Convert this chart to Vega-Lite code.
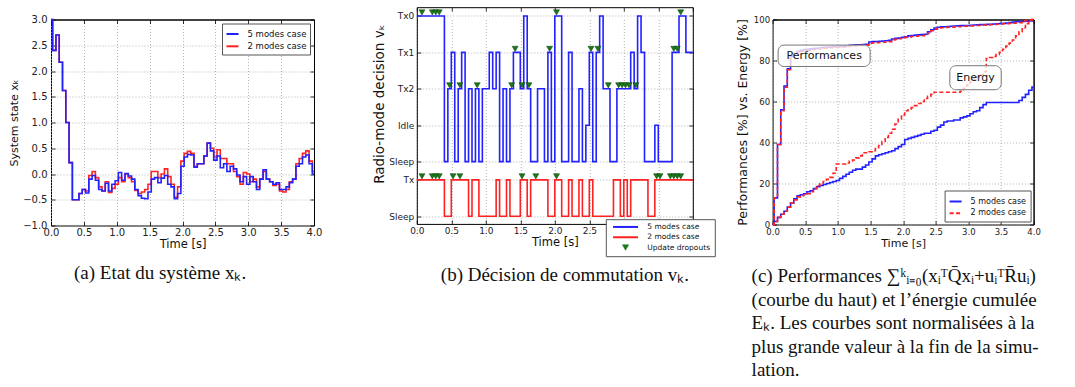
{
"$schema": "https://vega.github.io/schema/vega-lite/v6.json",
"background": "white",
"padding": {"left": 8, "top": 5.5, "right": 5, "bottom": 5},
"columns": 3,
"align": "none",
"spacing": 19.8,
"resolve": {"scale": {"color": "independent", "strokeDash": "independent"}},
"config": {
 "font": "DejaVu Sans",
 "view": {"stroke": "#000", "strokeWidth": 1},
 "axis": {"grid": true, "gridColor": "#a0a0a0", "gridDash": [1, 2], "gridWidth": 0.8, "domain": false, "ticks": true, "tickSize": -4, "tickColor": "#000", "tickWidth": 0.8, "labelColor": "#222", "titleColor": "#111", "titleFontWeight": "normal", "labelFlush": false, "labelOverlap": false, "titleFont": "DejaVu Sans", "labelFont": "DejaVu Sans"},
 "legend": {"labelFont": "DejaVu Sans", "labelColor": "#111", "strokeColor": "#555", "fillColor": "#fff", "cornerRadius": 0, "symbolStrokeWidth": 2, "labelLimit": 200},
 "title": {"font": "Liberation Serif", "fontWeight": "normal", "color": "#111", "fontSize": 19}
},
"datasets": {
 "a": [
{"t":0,"b":3,"r":3},{"t":0.05,"b":2.4,"r":2.4},{"t":0.1,"b":2.7,"r":2.7},{"t":0.15,"b":2.17,"r":2.17},{"t":0.2,"b":1.62,"r":1.62},{"t":0.25,"b":1,"r":1},{"t":0.3,"b":0.22,"r":0.22},{"t":0.35,"b":-0.5,"r":-0.5},{"t":0.4,"b":-0.5,"r":-0.5},{"t":0.45,"b":-0.38,"r":-0.38},
{"t":0.5,"b":-0.3,"r":-0.3},{"t":0.55,"b":-0.37,"r":-0.33},{"t":0.6,"b":-0.1,"r":-0.03},{"t":0.65,"b":-0.03,"r":0.05},{"t":0.7,"b":-0.12,"r":-0.07},{"t":0.75,"b":-0.3,"r":-0.25},{"t":0.8,"b":-0.33,"r":-0.33},{"t":0.85,"b":-0.18,"r":-0.15},{"t":0.9,"b":-0.33,"r":-0.36},{"t":0.95,"b":-0.2,"r":-0.28},
{"t":1,"b":-0.13,"r":-0.2},{"t":1.05,"b":0.03,"r":-0.07},{"t":1.1,"b":-0.12,"r":-0.15},{"t":1.15,"b":0.01,"r":0},{"t":1.2,"b":-0.04,"r":-0.07},{"t":1.25,"b":-0.1,"r":-0.15},{"t":1.3,"b":-0.3,"r":-0.32},{"t":1.35,"b":-0.42,"r":-0.38},{"t":1.4,"b":-0.47,"r":-0.35},{"t":1.45,"b":-0.48,"r":-0.3},
{"t":1.5,"b":-0.35,"r":-0.2},{"t":1.55,"b":-0.1,"r":0.05},{"t":1.6,"b":-0.07,"r":0.05},{"t":1.65,"b":-0.17,"r":-0.07},{"t":1.7,"b":-0.08,"r":0},{"t":1.75,"b":-0.03,"r":0.1},{"t":1.8,"b":-0.2,"r":-0.05},{"t":1.85,"b":-0.25,"r":-0.2},{"t":1.9,"b":-0.48,"r":-0.45},{"t":1.95,"b":-0.38,"r":-0.25},
{"t":2,"b":0.15,"r":0.25},{"t":2.05,"b":0.33,"r":0.4},{"t":2.1,"b":0.38,"r":0.44},{"t":2.15,"b":0.37,"r":0.4},{"t":2.2,"b":0.13,"r":0.15},{"t":2.25,"b":0.2,"r":0.2},{"t":2.3,"b":0.2,"r":0.2},{"t":2.35,"b":0.35,"r":0.35},{"t":2.4,"b":0.6,"r":0.6},{"t":2.45,"b":0.45,"r":0.5},
{"t":2.5,"b":0.27,"r":0.33},{"t":2.55,"b":0.35,"r":0.47},{"t":2.6,"b":0.12,"r":0.3},{"t":2.65,"b":0.2,"r":0.3},{"t":2.7,"b":0.05,"r":0.2},{"t":2.75,"b":0.15,"r":0.2},{"t":2.8,"b":0.1,"r":0.05},{"t":2.85,"b":-0.02,"r":-0.05},{"t":2.9,"b":-0.15,"r":-0.2},{"t":2.95,"b":-0.05,"r":0.03},
{"t":3,"b":-0.2,"r":0},{"t":3.05,"b":-0.05,"r":-0.15},{"t":3.1,"b":-0.15,"r":-0.1},{"t":3.15,"b":-0.3,"r":-0.25},{"t":3.2,"b":-0.1,"r":-0.1},{"t":3.25,"b":0.08,"r":0.05},{"t":3.3,"b":-0.1,"r":-0.1},{"t":3.35,"b":-0.15,"r":-0.15},{"t":3.4,"b":-0.2,"r":-0.22},{"t":3.45,"b":-0.17,"r":-0.2},
{"t":3.5,"b":-0.3,"r":-0.33},{"t":3.55,"b":-0.3,"r":-0.35},{"t":3.6,"b":-0.25,"r":-0.3},{"t":3.65,"b":-0.17,"r":-0.15},{"t":3.7,"b":-0.1,"r":-0.1},{"t":3.75,"b":0.15,"r":0.2},{"t":3.8,"b":0.2,"r":0.3},{"t":3.85,"b":0.33,"r":0.4},{"t":3.9,"b":0.37,"r":0.45},{"t":3.95,"b":0.2,"r":0.25},
{"t":4,"b":0,"r":0.05}
 ],
 "b5": [
{"t":0,"m":6},{"t":0.4,"m":2},{"t":0.45,"m":4},{"t":0.5,"m":5},{"t":0.55,"m":2},{"t":0.6,"m":4},{"t":0.65,"m":5},{"t":0.7,"m":2},{"t":0.75,"m":4},{"t":0.8,"m":2},{"t":0.85,"m":4},{"t":0.9,"m":2},{"t":0.95,"m":4},{"t":1.05,"m":5},{"t":1.1,"m":4},{"t":1.15,"m":5},{"t":1.2,"m":2},{"t":1.25,"m":4},{"t":1.3,"m":2},{"t":1.35,"m":4},{"t":1.4,"m":5},{"t":1.5,"m":4},{"t":1.55,"m":6},{"t":1.6,"m":4},{"t":1.65,"m":2},{"t":1.75,"m":4},{"t":1.85,"m":2},{"t":1.9,"m":5},{"t":1.95,"m":2},{"t":2,"m":6},{"t":2.1,"m":2},{"t":2.2,"m":5},{"t":2.25,"m":2},{"t":2.35,"m":4},{"t":2.4,"m":2},{"t":2.45,"m":3},{"t":2.5,"m":5},{"t":2.55,"m":2},{"t":2.6,"m":5},{"t":2.65,"m":6},{"t":2.7,"m":4},{"t":2.8,"m":2},{"t":2.9,"m":4},{"t":3.1,"m":5},{"t":3.15,"m":4},{"t":3.2,"m":6},{"t":3.25,"m":5},{"t":3.3,"m":2},{"t":3.45,"m":3},{"t":3.5,"m":2},{"t":3.7,"m":5},{"t":3.8,"m":6},{"t":3.9,"m":5},{"t":4,"m":5}
 ],
 "b2": [
{"t":0,"m":1.5},{"t":0.4,"m":0.5},{"t":0.5,"m":1.5},{"t":0.75,"m":0.5},{"t":0.8,"m":1.5},{"t":0.9,"m":0.5},{"t":1.15,"m":1.5},{"t":1.2,"m":0.5},{"t":1.3,"m":1.5},{"t":1.35,"m":0.5},{"t":1.5,"m":1.5},{"t":1.6,"m":0.5},{"t":1.65,"m":1.5},{"t":1.9,"m":0.5},{"t":2,"m":1.5},{"t":2.1,"m":0.5},{"t":2.2,"m":1.5},{"t":2.25,"m":0.5},{"t":2.35,"m":1.5},{"t":2.4,"m":0.5},{"t":2.5,"m":1.5},{"t":2.55,"m":0.5},{"t":2.85,"m":1.5},{"t":2.95,"m":0.5},{"t":3,"m":1.5},{"t":3.05,"m":0.5},{"t":3.1,"m":1.5},{"t":3.35,"m":0.5},{"t":3.45,"m":1.5},{"t":4,"m":1.5}
 ],
 "drop": [
{"t":0.075,"m":6},{"t":0.225,"m":6},{"t":0.275,"m":6},{"t":0.325,"m":6},{"t":0.475,"m":4},{"t":0.625,"m":4},{"t":0.875,"m":4},{"t":1.375,"m":4},{"t":1.425,"m":5},{"t":1.525,"m":4},{"t":1.625,"m":4},{"t":1.925,"m":5},{"t":2.025,"m":6},{"t":2.525,"m":5},{"t":2.625,"m":5},{"t":2.775,"m":4},{"t":2.925,"m":4},{"t":2.975,"m":4},{"t":3.025,"m":4},{"t":3.075,"m":4},{"t":3.175,"m":4},{"t":3.725,"m":5},{"t":3.775,"m":5},{"t":3.825,"m":6},
{"t":0.075,"m":1.5},{"t":0.225,"m":1.5},{"t":0.275,"m":1.5},{"t":0.325,"m":1.5},{"t":0.525,"m":1.5},{"t":0.625,"m":1.5},{"t":1.525,"m":1.5},{"t":1.725,"m":1.5},{"t":2.025,"m":1.5},{"t":3.475,"m":1.5},{"t":3.525,"m":1.5},{"t":3.675,"m":1.5},{"t":3.725,"m":1.5},{"t":3.775,"m":1.5},{"t":3.825,"m":1.5}
 ],
 "c": [
{"t":0,"P5":0,"P2":0,"E5":0,"E2":0},{"t":0.05,"P5":13,"P2":13,"E5":1.5,"E2":1.5},{"t":0.1,"P5":39,"P2":39,"E5":3.5,"E2":3.5},{"t":0.15,"P5":56,"P2":55.5,"E5":5,"E2":5},{"t":0.2,"P5":67.5,"P2":67,"E5":6.5,"E2":6.5},{"t":0.25,"P5":76,"P2":75.5,"E5":8.5,"E2":8.5},{"t":0.3,"P5":82,"P2":81.5,"E5":10.5,"E2":10.5},{"t":0.35,"P5":83.5,"P2":83,"E5":12.5,"E2":12},{"t":0.4,"P5":84.5,"P2":84,"E5":14,"E2":13.5},{"t":0.45,"P5":85,"P2":84.5,"E5":14.5,"E2":14},
{"t":0.5,"P5":85.3,"P2":84.8,"E5":15,"E2":14.5},{"t":0.55,"P5":85.5,"P2":85,"E5":16,"E2":15},{"t":0.6,"P5":85.7,"P2":85.2,"E5":16.5,"E2":16},{"t":0.65,"P5":85.9,"P2":85.4,"E5":17.5,"E2":17.5},{"t":0.7,"P5":86,"P2":85.6,"E5":18.5,"E2":19},{"t":0.75,"P5":86.2,"P2":85.8,"E5":19,"E2":20},{"t":0.8,"P5":86.4,"P2":86,"E5":19.5,"E2":21},{"t":0.85,"P5":86.5,"P2":86.1,"E5":20,"E2":22},{"t":0.9,"P5":86.6,"P2":86.2,"E5":20.5,"E2":23},{"t":0.95,"P5":86.7,"P2":86.3,"E5":21,"E2":25},
{"t":1,"P5":86.8,"P2":86.4,"E5":21.5,"E2":29.5},{"t":1.05,"P5":86.9,"P2":86.5,"E5":22.5,"E2":29.5},{"t":1.1,"P5":87,"P2":86.6,"E5":23.5,"E2":29.5},{"t":1.15,"P5":87.2,"P2":86.8,"E5":24.5,"E2":30},{"t":1.2,"P5":87.4,"P2":87,"E5":25.5,"E2":31},{"t":1.25,"P5":87.5,"P2":87.1,"E5":26.5,"E2":31.5},{"t":1.3,"P5":87.6,"P2":87.2,"E5":27,"E2":32.5},{"t":1.35,"P5":87.7,"P2":87.3,"E5":27,"E2":33.5},{"t":1.4,"P5":87.8,"P2":87.4,"E5":28,"E2":35},{"t":1.45,"P5":87.9,"P2":87.5,"E5":29,"E2":35},
{"t":1.5,"P5":89,"P2":88.5,"E5":30.5,"E2":35.5},{"t":1.55,"P5":89.2,"P2":88.6,"E5":32,"E2":36},{"t":1.6,"P5":89.3,"P2":88.7,"E5":33.5,"E2":37},{"t":1.65,"P5":89.4,"P2":88.8,"E5":34,"E2":38.5},{"t":1.7,"P5":89.5,"P2":88.9,"E5":34.5,"E2":40.5},{"t":1.75,"P5":89.6,"P2":89,"E5":35,"E2":42.5},{"t":1.8,"P5":89.8,"P2":89.2,"E5":35.5,"E2":44.5},{"t":1.85,"P5":90.5,"P2":90,"E5":36,"E2":46.5},{"t":1.9,"P5":90.8,"P2":90.3,"E5":37,"E2":49},{"t":1.95,"P5":91,"P2":90.6,"E5":38,"E2":51.5},
{"t":2,"P5":91.3,"P2":91,"E5":39,"E2":53.5},{"t":2.05,"P5":91.6,"P2":91.3,"E5":41.5,"E2":55.5},{"t":2.1,"P5":92,"P2":91.5,"E5":42,"E2":56},{"t":2.15,"P5":92.2,"P2":91.7,"E5":42.5,"E2":57},{"t":2.2,"P5":92.4,"P2":91.8,"E5":43,"E2":58},{"t":2.25,"P5":92.5,"P2":92,"E5":43.5,"E2":59},{"t":2.3,"P5":92.6,"P2":92.1,"E5":44,"E2":60},{"t":2.35,"P5":92.8,"P2":92.3,"E5":44.5,"E2":61.5},{"t":2.4,"P5":94,"P2":93.3,"E5":44.5,"E2":62.5},{"t":2.45,"P5":95,"P2":94.5,"E5":45.5,"E2":63.5},
{"t":2.5,"P5":95.8,"P2":95.3,"E5":46,"E2":64.5},{"t":2.55,"P5":96.2,"P2":95.8,"E5":47.5,"E2":64.5},{"t":2.6,"P5":96.4,"P2":96,"E5":48.5,"E2":64.5},{"t":2.65,"P5":96.5,"P2":96.1,"E5":50,"E2":64.5},{"t":2.7,"P5":96.6,"P2":96.2,"E5":50.5,"E2":64.5},{"t":2.75,"P5":96.7,"P2":96.3,"E5":50.5,"E2":64.5},{"t":2.8,"P5":96.8,"P2":96.4,"E5":51,"E2":64.5},{"t":2.85,"P5":96.9,"P2":96.5,"E5":51,"E2":64.5},{"t":2.9,"P5":97,"P2":96.6,"E5":52,"E2":65},{"t":2.95,"P5":97,"P2":96.7,"E5":52.5,"E2":66.5},
{"t":3,"P5":97.1,"P2":96.8,"E5":53,"E2":68},{"t":3.05,"P5":97.2,"P2":96.9,"E5":54,"E2":69.5},{"t":3.1,"P5":97.3,"P2":97,"E5":55,"E2":71},{"t":3.15,"P5":97.4,"P2":97.1,"E5":55.5,"E2":72},{"t":3.2,"P5":97.5,"P2":97.2,"E5":57,"E2":73},{"t":3.25,"P5":97.5,"P2":97.3,"E5":58.5,"E2":74.5},{"t":3.3,"P5":97.6,"P2":97.4,"E5":59.5,"E2":81},{"t":3.35,"P5":97.7,"P2":97.5,"E5":59.5,"E2":81.5},{"t":3.4,"P5":97.8,"P2":97.6,"E5":59.5,"E2":82},{"t":3.45,"P5":97.9,"P2":97.7,"E5":59.5,"E2":83},
{"t":3.5,"P5":98,"P2":97.8,"E5":59.5,"E2":84},{"t":3.55,"P5":98.1,"P2":97.9,"E5":59.5,"E2":85.5},{"t":3.6,"P5":98.3,"P2":98,"E5":59.5,"E2":87},{"t":3.65,"P5":98.5,"P2":98.1,"E5":59.5,"E2":88.5},{"t":3.7,"P5":98.7,"P2":98.2,"E5":59.5,"E2":90},{"t":3.75,"P5":98.9,"P2":98.3,"E5":59.5,"E2":92},{"t":3.8,"P5":99,"P2":98.5,"E5":60.5,"E2":94},{"t":3.85,"P5":99.1,"P2":99.3,"E5":62,"E2":96},{"t":3.9,"P5":99.2,"P2":99.6,"E5":63.5,"E2":98},{"t":3.95,"P5":99.3,"P2":99.8,"E5":65.5,"E2":99.5},
{"t":4,"P5":99.3,"P2":100,"E5":67,"E2":100}
 ],
 "lab": [{"label":"Performances","t":0.79,"v":82.3},{"label":"Energy","t":3.11,"v":71.6}]
},
"concat": [
 {"width": 263, "height": 206,
  "data": {"name": "a"},
  "title": {"text": "(a)  Etat du système xₖ.", "orient": "bottom", "anchor": "start", "frame": "group", "dx": 23, "offset": 14, "baseline": "top"},
  "resolve": {"axis": {"x": "independent", "y": "independent"}},
  "layer": [
   {"mark": {"type": "line", "interpolate": "step", "strokeWidth": 1.6},
    "encoding": {
     "x": {"field": "t", "type": "quantitative", "scale": {"domain": [0, 4], "nice": false}, "axis": {"orient": "bottom", "values": [0,0.5,1,1.5,2,2.5,3,3.5,4], "format": ".1f", "title": "Time [s]", "labelFontSize": 10, "labelPadding": 6, "titlePadding": 1, "titleFontSize": 11.5}},
     "y": {"field": "r", "type": "quantitative", "scale": {"domain": [-1, 3], "nice": false}, "axis": {"orient": "left", "values": [-1,-0.5,0,0.5,1,1.5,2,2.5,3], "format": ".1f", "title": "System state xₖ", "labelFontSize": 10, "labelPadding": 8, "titlePadding": 3, "titleFontSize": 11, "minExtent": 0}},
     "color": {"datum": "2 modes case", "type": "nominal", "scale": {"domain": ["5 modes case", "2 modes case"], "range": ["#2222ff", "#ff2222"]},
      "legend": {"title": null, "orient": "top-right", "offset": 4, "padding": 3.5, "labelFontSize": 8.5, "symbolSize": 144, "symbolType": "stroke", "rowPadding": 0.3, "labelOffset": 8,
       "encode": {"symbols": {"update": {"size": {"signal": "144"}, "strokeWidth": {"signal": "2"}, "opacity": {"value": 1}}}}}}}},
   {"mark": {"type": "line", "interpolate": "step", "strokeWidth": 1.6},
    "encoding": {
     "x": {"field": "t", "type": "quantitative", "axis": {"orient": "top", "values": [0,0.5,1,1.5,2,2.5,3,3.5,4], "labels": false, "grid": false, "domain": true, "domainColor": "#000", "title": null, "minExtent": 12.8, "maxExtent": 12.8}},
     "y": {"field": "b", "type": "quantitative", "axis": {"orient": "right", "values": [-1,-0.5,0,0.5,1,1.5,2,2.5,3], "labels": false, "grid": false, "domain": true, "domainColor": "#000", "title": null, "minExtent": 37.2, "maxExtent": 37.2}},
     "color": {"datum": "5 modes case", "type": "nominal"}}}
  ]},
 {"width": 276, "height": 204.4,
  "view": {"stroke": null},
  "title": {"text": "(b)  Décision de commutation vₖ.", "orient": "bottom", "anchor": "start", "frame": "group", "dx": 24, "offset": 9, "baseline": "top"},
  "resolve": {"axis": {"x": "independent", "y": "independent"}},
  "layer": [
   {"data": {"name": "b5"}, "mark": {"type": "line", "interpolate": "step-after", "strokeWidth": 1.6},
    "encoding": {
     "x": {"field": "t", "type": "quantitative", "scale": {"domain": [0, 4], "nice": false}, "axis": {"orient": "bottom", "values": [0,0.5,1,1.5,2,2.5,3,3.5,4], "labelExpr": "datum.value > 2.9 ? '' : format(datum.value, '.1f')", "title": "Time [s]", "labelFontSize": 9, "labelPadding": 7, "titlePadding": 1, "titleFontSize": 11.5, "domain": true, "domainColor": "#000"}},
     "y": {"field": "m", "type": "quantitative", "scale": {"domain": [0.29, 6.24], "nice": false, "zero": false, "range": [204.4, -12.3]}, "axis": {"orient": "left", "values": [0.5,1.5,2,3,4,5,6], "labelExpr": "datum.value == 6 ? 'Tx0' : datum.value == 5 ? 'Tx1' : datum.value == 4 ? 'Tx2' : datum.value == 3 ? 'Idle' : datum.value == 1.5 ? 'Tx' : 'Sleep'", "title": "Radio-mode decision vₖ", "titleY": 84.2, "labelFontSize": 9, "labelPadding": 7, "titlePadding": 2, "titleFontSize": 13.5, "minExtent": 0, "domain": true, "domainColor": "#000"}},
     "color": {"datum": "5 modes case", "type": "nominal", "scale": {"domain": ["5 modes case", "2 modes case", "Update dropouts"], "range": ["#2222ff", "#ff2222", "#1a7a1a"]},
      "legend": {"title": null, "orient": "none", "legendX": 189, "legendY": 199.7, "padding": 4, "labelFontSize": 7.5, "symbolSize": 625, "symbolType": "stroke", "rowPadding": 1.3, "labelOffset": 18, "symbolOffset": 12,
       "encode": {"symbols": {"update": {
        "shape": {"signal": "datum.value === 'Update dropouts' ? 'triangle-down' : 'stroke'"},
        "size": {"signal": "datum.value === 'Update dropouts' ? 40 : 625"},
        "fill": {"signal": "datum.value === 'Update dropouts' ? '#1a7a1a' : 'transparent'"},
        "stroke": {"signal": "datum.value === '5 modes case' ? '#2222ff' : datum.value === '2 modes case' ? '#ff2222' : '#0b3d0b'"},
        "strokeWidth": {"signal": "datum.value === 'Update dropouts' ? 0.5 : 2"},
        "opacity": {"value": 1}}}}}}}},
   {"data": {"name": "b2"}, "mark": {"type": "line", "interpolate": "step-after", "strokeWidth": 1.6},
    "encoding": {
     "x": {"field": "t", "type": "quantitative", "axis": {"orient": "top", "offset": 12.3, "values": [0,0.5,1,1.5,2,2.5,3,3.5,4], "labels": false, "grid": false, "domain": true, "domainColor": "#000", "title": null}},
     "y": {"field": "m", "type": "quantitative", "axis": {"orient": "right", "values": [0.5,1.5,2,3,4,5,6], "labels": false, "grid": false, "domain": true, "domainColor": "#000", "title": null}},
     "color": {"datum": "2 modes case", "type": "nominal"}}},
   {"data": {"name": "drop"}, "mark": {"type": "point", "shape": "triangle-down", "filled": true, "size": 36, "opacity": 1, "yOffset": -3.5, "stroke": "#0b3d0b", "strokeWidth": 0.5},
    "encoding": {
     "x": {"field": "t", "type": "quantitative", "axis": null},
     "y": {"field": "m", "type": "quantitative", "axis": null},
     "color": {"datum": "Update dropouts", "type": "nominal"}}}
  ]},
 {"width": 261, "height": 205,
  "data": {"name": "c"},
  "title": {"text": ["(c) Performances ∑ᵏᵢ₌₀(xᵢᵀQ̄xᵢ+uᵢᵀR̄uᵢ)", "(courbe du haut) et l’énergie cumulée", "Eₖ. Les courbes sont normalisées à la", "plus grande valeur à la fin de la simu-", "lation."], "orient": "bottom", "anchor": "start", "frame": "group", "dx": -21, "offset": 19, "baseline": "top", "lineHeight": 23.5},
  "resolve": {"axis": {"x": "independent", "y": "independent"}},
  "layer": [
   {"transform": [{"fold": ["P5", "E5"], "as": ["k", "v"]}],
    "mark": {"type": "line", "interpolate": "step", "strokeWidth": 1.6},
    "encoding": {
     "x": {"field": "t", "type": "quantitative", "scale": {"domain": [0, 4], "nice": false}, "axis": {"orient": "bottom", "values": [0,0.5,1,1.5,2,2.5,3,3.5,4], "format": ".1f", "title": "Time [s]", "labelFontSize": 8.5, "labelPadding": 7, "titlePadding": 1, "titleFontSize": 11}},
     "y": {"field": "v", "type": "quantitative", "scale": {"domain": [0, 100], "nice": false}, "axis": {"orient": "left", "values": [0,20,40,60,80,100], "title": "Performances [%] vs. Energy [%]", "labelFontSize": 8.5, "labelPadding": 7, "titlePadding": 4, "titleFontSize": 12.5, "minExtent": 0}},
     "detail": {"field": "k", "type": "nominal"},
     "color": {"datum": "5 modes case", "type": "nominal", "scale": {"domain": ["5 modes case", "2 modes case"], "range": ["#2222ff", "#ff2222"]},
      "legend": {"title": null, "orient": "bottom-right", "offset": 3, "padding": 4, "labelFontSize": 8, "symbolSize": 144, "symbolType": "stroke", "rowPadding": 0.7, "labelOffset": 8,
       "encode": {"symbols": {"update": {"size": {"signal": "144"}, "strokeWidth": {"signal": "2"}, "opacity": {"value": 1}}}}}},
     "strokeDash": {"datum": "5 modes case", "type": "nominal", "scale": {"domain": ["5 modes case", "2 modes case"], "range": [[1, 0], [4, 2.5]]},
      "legend": {"title": null, "orient": "bottom-right", "offset": 3, "padding": 4, "labelFontSize": 8, "symbolSize": 144, "symbolType": "stroke", "rowPadding": 0.7, "labelOffset": 8,
       "encode": {"symbols": {"update": {"size": {"signal": "144"}, "strokeWidth": {"signal": "2"}, "opacity": {"value": 1}}}}}}}},
   {"transform": [{"fold": ["P2", "E2"], "as": ["k", "v"]}],
    "mark": {"type": "line", "interpolate": "step", "strokeWidth": 1.6},
    "encoding": {
     "x": {"field": "t", "type": "quantitative", "axis": {"orient": "top", "values": [0,0.5,1,1.5,2,2.5,3,3.5,4], "labels": false, "grid": false, "domain": true, "domainColor": "#000", "title": null, "minExtent": 12.8, "maxExtent": 12.8}},
     "y": {"field": "v", "type": "quantitative", "axis": {"orient": "right", "values": [0,20,40,60,80,100], "labels": false, "grid": false, "domain": true, "domainColor": "#000", "title": null}},
     "detail": {"field": "k", "type": "nominal"},
     "color": {"datum": "2 modes case", "type": "nominal"},
     "strokeDash": {"datum": "2 modes case", "type": "nominal"}}},
   {"data": {"name": "lab"}, "transform": [{"filter": "datum.label === 'Performances'"}],
    "mark": {"type": "rect", "xOffset": -46, "x2Offset": 46, "yOffset": -10.7, "y2Offset": 10.7, "cornerRadius": 6, "fill": "#fff", "fillOpacity": 0.75, "stroke": "#777", "strokeWidth": 1},
    "encoding": {"x": {"field": "t", "type": "quantitative", "axis": null}, "x2": {"field": "t"}, "y": {"field": "v", "type": "quantitative", "axis": null}, "y2": {"field": "v"}}},
   {"data": {"name": "lab"}, "transform": [{"filter": "datum.label === 'Energy'"}],
    "mark": {"type": "rect", "xOffset": -25.7, "x2Offset": 25.7, "yOffset": -12, "y2Offset": 12, "cornerRadius": 6, "fill": "#fff", "fillOpacity": 0.75, "stroke": "#777", "strokeWidth": 1},
    "encoding": {"x": {"field": "t", "type": "quantitative", "axis": null}, "x2": {"field": "t"}, "y": {"field": "v", "type": "quantitative", "axis": null}, "y2": {"field": "v"}}},
   {"data": {"name": "lab"},
    "mark": {"type": "text", "font": "DejaVu Sans", "fontSize": 11, "color": "#111", "baseline": "middle", "align": "center"},
    "encoding": {"x": {"field": "t", "type": "quantitative", "axis": null}, "y": {"field": "v", "type": "quantitative", "axis": null}, "text": {"field": "label", "type": "nominal"}}}
  ]}
]
}
